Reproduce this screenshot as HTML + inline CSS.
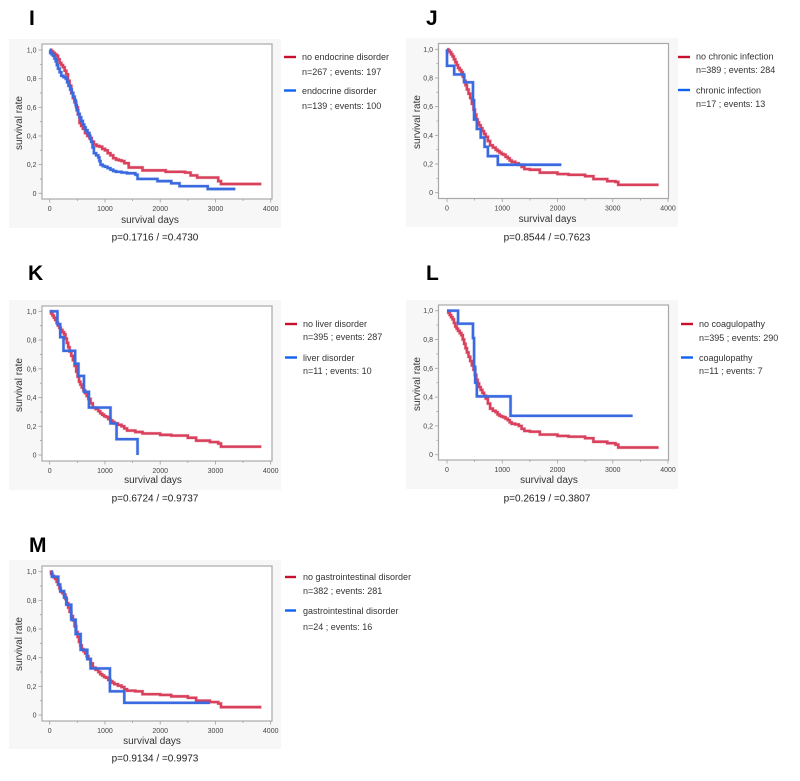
<!DOCTYPE html>
<html lang="en">
<head>
<meta charset="utf-8">
<title>Survival curves I to M</title>
<style>
html,body{margin:0;padding:0;background:#fff;width:800px;height:781px;overflow:hidden}
svg{display:block;font-family:"Liberation Sans",sans-serif}
.letter{font-size:21px;font-weight:bold;fill:#000}
.leg{font-size:9px;fill:#333}
.axt{font-size:10px;fill:#333}
.pv{font-size:10px;fill:#222}
.tick{font-size:7px;fill:#444}
</style>
</head>
<body>
<svg id="figure" width="800" height="781" viewBox="0 0 800 781" xmlns="http://www.w3.org/2000/svg">

<g id="panel-I">
<text class="letter" x="29" y="25">I</text>
<rect x="9" y="39" width="272" height="189" fill="#f7f7f7"/>
<rect x="42" y="44" width="230" height="155" fill="#fff" stroke="#a9a9a9" stroke-width="1.2"/>
<text class="axt" x="150" y="223" text-anchor="middle">survival days</text>
<text class="axt" transform="translate(22,123) rotate(-90)" text-anchor="middle">survival rate</text>
<text class="pv" x="155" y="240.500" text-anchor="middle">p=0.1716 / =0.4730</text>
<line x1="284" x2="296" y1="57" y2="57" stroke="#c8102e" stroke-width="2.4"/>
<text class="leg" x="302" y="60">no endocrine disorder</text>
<text class="leg" x="302" y="75">n=267 ; events: 197</text>
<line x1="284" x2="296" y1="90.500" y2="90.500" stroke="#0f62f0" stroke-width="2.4"/>
<text class="leg" x="302" y="94">endocrine disorder</text>
<text class="leg" x="302" y="109">n=139 ; events: 100</text>
</g>

<g id="panel-J">
<text class="letter" x="426" y="25">J</text>
<rect x="406" y="38" width="272" height="189" fill="#f7f7f7"/>
<rect x="438.500" y="43.500" width="230" height="155" fill="#fff" stroke="#a9a9a9" stroke-width="1.2"/>
<text class="axt" x="547.500" y="222" text-anchor="middle">survival days</text>
<text class="axt" transform="translate(420,122) rotate(-90)" text-anchor="middle">survival rate</text>
<text class="pv" x="547" y="240.500" text-anchor="middle">p=0.8544 / =0.7623</text>
<line x1="678" x2="690" y1="57" y2="57" stroke="#c8102e" stroke-width="2.4"/>
<text class="leg" x="696" y="59.500">no chronic infection</text>
<text class="leg" x="696" y="73">n=389 ; events: 284</text>
<line x1="678" x2="690" y1="90" y2="90" stroke="#0f62f0" stroke-width="2.4"/>
<text class="leg" x="696" y="93.500">chronic infection</text>
<text class="leg" x="696" y="107">n=17 ; events: 13</text>
</g>

<g id="panel-K">
<text class="letter" x="28" y="280">K</text>
<rect x="9" y="300" width="272" height="190" fill="#f7f7f7"/>
<rect x="42" y="306" width="230" height="155" fill="#fff" stroke="#a9a9a9" stroke-width="1.2"/>
<text class="axt" x="153" y="483" text-anchor="middle">survival days</text>
<text class="axt" transform="translate(22,385) rotate(-90)" text-anchor="middle">survival rate</text>
<text class="pv" x="155" y="501.500" text-anchor="middle">p=0.6724 / =0.9737</text>
<line x1="285" x2="297" y1="324" y2="324" stroke="#c8102e" stroke-width="2.4"/>
<text class="leg" x="303" y="327">no liver disorder</text>
<text class="leg" x="303" y="340">n=395 ; events: 287</text>
<line x1="285" x2="297" y1="357.500" y2="357.500" stroke="#0f62f0" stroke-width="2.4"/>
<text class="leg" x="303" y="361">liver disorder</text>
<text class="leg" x="303" y="374">n=11 ; events: 10</text>
</g>

<g id="panel-L">
<text class="letter" x="426" y="280">L</text>
<rect x="406" y="300" width="272" height="189" fill="#f7f7f7"/>
<rect x="438.500" y="305" width="230" height="155" fill="#fff" stroke="#a9a9a9" stroke-width="1.2"/>
<text class="axt" x="549" y="483" text-anchor="middle">survival days</text>
<text class="axt" transform="translate(420,384) rotate(-90)" text-anchor="middle">survival rate</text>
<text class="pv" x="547" y="501.500" text-anchor="middle">p=0.2619 / =0.3807</text>
<line x1="681" x2="693" y1="324" y2="324" stroke="#c8102e" stroke-width="2.4"/>
<text class="leg" x="699" y="327">no coagulopathy</text>
<text class="leg" x="699" y="341">n=395 ; events: 290</text>
<line x1="681" x2="693" y1="357.500" y2="357.500" stroke="#0f62f0" stroke-width="2.4"/>
<text class="leg" x="699" y="361">coagulopathy</text>
<text class="leg" x="699" y="374">n=11 ; events: 7</text>
</g>

<g id="panel-M">
<text class="letter" x="29" y="552">M</text>
<rect x="9" y="560" width="272" height="189" fill="#f7f7f7"/>
<rect x="42" y="566" width="230" height="155" fill="#fff" stroke="#a9a9a9" stroke-width="1.2"/>
<text class="axt" x="152" y="744" text-anchor="middle">survival days</text>
<text class="axt" transform="translate(22,644) rotate(-90)" text-anchor="middle">survival rate</text>
<text class="pv" x="155" y="761.500" text-anchor="middle">p=0.9134 / =0.9973</text>
<line x1="285" x2="296" y1="577" y2="577" stroke="#c8102e" stroke-width="2.4"/>
<text class="leg" x="303" y="580">no gastrointestinal disorder</text>
<text class="leg" x="303" y="594">n=382 ; events: 281</text>
<line x1="285" x2="296" y1="610.500" y2="610.500" stroke="#0f62f0" stroke-width="2.4"/>
<text class="leg" x="303" y="614">gastrointestinal disorder</text>
<text class="leg" x="303" y="630">n=24 ; events: 16</text>
</g>
</svg>

<script>
const xTickValues = [0, 1000, 2000, 3000, 4000];
const xTickLabels = ['0', '1000', '2000', '3000', '4000'];
const xMinorValues = [500, 1500, 2500, 3500];
const yTickValues = [0, 0.2, 0.4, 0.6, 0.8, 1];
const yTickLabels = ['0', '0,2', '0,4', '0,6', '0,8', '1,0'];
const yMinorValues = [0.1, 0.3, 0.5, 0.7, 0.9];

const redDaysI = [0,30,60,90,120,150,180,210,240,270,300,330,360,390,420,450,480,510,540,570,600,640,680,720,760,800,850,900,950,1000,1050,1100,1150,1200,1250,1300,1350,1430,1600,1680,1950,2100,2450,2550,2670,3000,3050,3100,3830];
const redSurvI = [1,.99,.98,.97,.96,.935,.91,.895,.88,.855,.83,.785,.75,.70,.665,.635,.60,.55,.49,.47,.45,.42,.40,.385,.36,.34,.33,.325,.31,.30,.28,.265,.245,.235,.23,.225,.21,.18,.18,.16,.16,.15,.145,.125,.11,.11,.085,.065,.065];
const blueDaysI = [0,10,35,60,85,110,130,150,180,210,250,290,315,340,370,400,425,450,470,490,515,540,570,600,625,650,685,720,735,750,775,800,840,880,900,920,960,1000,1050,1100,1150,1200,1300,1400,1550,1590,1950,2200,2350,2860,3360];
const blueSurvI = [1,.98,.97,.96,.94,.92,.895,.87,.845,.82,.81,.80,.775,.75,.725,.70,.675,.65,.615,.58,.555,.53,.505,.48,.46,.44,.42,.40,.38,.36,.32,.28,.265,.25,.225,.20,.19,.185,.175,.165,.155,.15,.145,.14,.13,.10,.085,.07,.05,.03,.03];

const redDaysJ = [0,25,50,75,100,125,150,175,200,230,260,285,310,335,360,390,420,450,480,505,530,555,580,610,640,670,700,740,780,830,880,915,950,985,1020,1060,1100,1135,1170,1235,1300,1350,1400,1500,1680,1950,2000,2200,2500,2650,2900,3050,3100,3830];
const redSurvJ = [1,.99,.98,.965,.95,.93,.91,.89,.87,.855,.84,.81,.78,.75,.72,.69,.66,.62,.58,.545,.51,.49,.47,.45,.43,.41,.39,.36,.33,.315,.30,.29,.28,.27,.265,.25,.24,.225,.215,.205,.195,.18,.165,.16,.14,.14,.13,.125,.115,.095,.08,.075,.055,.055];
const blueDaysJ = [0,0,130,310,470,490,540,610,680,740,920,2070];
const blueSurvJ = [1,.885,.825,.77,.645,.51,.445,.385,.32,.255,.195,.195];

const redDaysK = [0,25,50,75,100,125,150,175,200,230,260,285,310,335,360,390,420,450,480,505,530,555,580,610,640,670,700,740,780,830,880,915,950,985,1020,1060,1100,1135,1170,1235,1300,1350,1400,1550,1680,1950,2000,2200,2500,2650,2900,3050,3100,3830];
const redSurvK = [1,.985,.97,.955,.94,.92,.90,.885,.87,.855,.84,.81,.78,.75,.72,.69,.66,.62,.58,.545,.51,.49,.47,.45,.43,.41,.39,.36,.33,.32,.305,.29,.28,.27,.265,.25,.24,.23,.22,.21,.20,.185,.17,.16,.15,.15,.14,.135,.12,.10,.09,.08,.058,.058];
const blueDaysK = [0,140,190,250,460,520,620,710,1100,1210,1590];
const blueSurvK = [1,.91,.82,.725,.635,.55,.44,.33,.22,.11,0];

const redDaysL = [0,25,50,75,100,125,150,175,200,230,260,285,310,335,360,390,420,450,480,505,530,555,580,610,640,670,700,740,780,830,880,915,950,985,1020,1060,1100,1135,1170,1235,1300,1350,1400,1500,1680,1950,2000,2200,2500,2650,2900,3050,3100,3830];
const redSurvL = [1,.985,.97,.955,.94,.915,.89,.875,.86,.845,.83,.80,.77,.74,.71,.68,.65,.62,.59,.555,.52,.495,.47,.45,.43,.41,.39,.355,.32,.305,.295,.28,.27,.265,.26,.25,.24,.225,.215,.21,.20,.18,.165,.16,.14,.14,.13,.125,.115,.09,.08,.07,.05,.05];
const blueDaysL = [0,200,470,490,510,540,1150,3360];
const blueSurvL = [1,.91,.81,.61,.5,.405,.27,.27];

const redDaysM = [0,25,50,75,100,125,150,175,200,230,260,285,310,335,360,390,420,450,480,505,530,555,580,610,640,670,700,740,780,830,880,915,950,985,1020,1060,1100,1135,1170,1235,1300,1350,1400,1550,1680,1950,2000,2200,2500,2650,2900,3050,3100,3830];
const redSurvM = [1,.985,.97,.96,.95,.93,.91,.885,.86,.85,.84,.81,.78,.75,.72,.69,.66,.62,.58,.545,.51,.485,.46,.445,.43,.41,.39,.36,.33,.315,.30,.285,.275,.265,.26,.245,.235,.225,.215,.205,.195,.18,.17,.165,.145,.145,.14,.13,.12,.10,.09,.08,.055,.055];
const blueDaysM = [30,40,155,190,260,300,390,470,560,680,740,1090,1350,2900];
const blueSurvM = [1,.965,.91,.865,.82,.77,.665,.565,.455,.39,.325,.165,.085,.085];

const panels = [
  {id:'I', key:'i', left:42, bottom:199, x0:49.7, x4:270.7, y1:50, y0:193.3, red:[redDaysI,redSurvI], blue:[blueDaysI,blueSurvI]},
  {id:'J', key:'j', left:438.5, bottom:198.5, x0:447, x4:668, y1:49.3, y0:192.7, red:[redDaysJ,redSurvJ], blue:[blueDaysJ,blueSurvJ]},
  {id:'K', key:'k', left:42, bottom:461, x0:49.7, x4:270.7, y1:311.3, y0:455, red:[redDaysK,redSurvK], blue:[blueDaysK,blueSurvK]},
  {id:'L', key:'l', left:438.5, bottom:460, x0:447, x4:668, y1:310.7, y0:454.7, red:[redDaysL,redSurvL], blue:[blueDaysL,blueSurvL]},
  {id:'M', key:'m', left:42, bottom:721, x0:49.7, x4:270.7, y1:571.7, y0:715, red:[redDaysM,redSurvM], blue:[blueDaysM,blueSurvM]}
];

const NS = 'http://www.w3.org/2000/svg';

function xAxis(p, d) { return p.x0 + (d / 4000) * (p.x4 - p.x0); }
function yAxis(p, s) { return p.y0 - s * (p.y0 - p.y1); }

function stepPath(p, days, surv) {
  let d = 'M' + xAxis(p, days[0]).toFixed(2) + ' ' + yAxis(p, surv[0]).toFixed(2);
  for (let i = 1; i < days.length; i++) {
    d += 'H' + xAxis(p, days[i]).toFixed(2) + 'V' + yAxis(p, surv[i]).toFixed(2);
  }
  return d;
}

function drawTick(g, x1, y1, x2, y2) {
  const t = document.createElementNS(NS, 'line');
  
  
  t.setAttribute('x1', x1);
  t.setAttribute('y1', y1);
  t.setAttribute('x2', x2);
  t.setAttribute('y2', y2);
  t.setAttribute('stroke', '#a0a0a0');
  t.setAttribute('stroke-width', '0.8');
  g.appendChild(t);
}

function drawLabel(g, x, y, anchor, str) {
  const t = document.createElementNS(NS, 'text');
  
  
  t.setAttribute('class', 'tick');
  t.setAttribute('x', x);
  t.setAttribute('y', y);
  t.setAttribute('text-anchor', anchor);
  t.textContent = str;
  g.appendChild(t);
}

function drawCurve(g, p, series, color, name) {
  const d = stepPath(p, series[0], series[1]);
  const halo = document.createElementNS(NS, 'path');
  
  
  halo.setAttribute('d', d);
  halo.setAttribute('fill', 'none');
  halo.setAttribute('stroke', color);
  halo.setAttribute('stroke-opacity', '0.3');
  halo.setAttribute('stroke-width', '3.4');
  g.appendChild(halo);
  const line = document.createElementNS(NS, 'path');
  
  
  line.setAttribute('d', d);
  line.setAttribute('fill', 'none');
  line.setAttribute('stroke', color);
  line.setAttribute('stroke-width', '2.4');
  g.appendChild(line);
}

panels.forEach(function (p) {
  const g = document.getElementById('panel-' + p.id);
  xTickValues.forEach(function (v, i) {
    const x = xAxis(p, v);
    drawTick(g, x, p.bottom, x, p.bottom + 3.5);
    drawLabel(g, x, p.bottom + 12, 'middle', xTickLabels[i]);
  });
  xMinorValues.forEach(function (v) {
    const x = xAxis(p, v);
    drawTick(g, x, p.bottom, x, p.bottom + 2);
  });
  yTickValues.forEach(function (v, i) {
    const y = yAxis(p, v);
    drawTick(g, p.left, y, p.left - 3.5, y);
    drawLabel(g, p.left - 5.5, y + 2.5, 'end', yTickLabels[i]);
  });
  yMinorValues.forEach(function (v) {
    const y = yAxis(p, v);
    drawTick(g, p.left, y, p.left - 2, y);
  });
  drawCurve(g, p, p.red, '#d8405c', 'survival-curve-red-' + p.key);
  drawCurve(g, p, p.blue, '#3a6ae0', 'survival-curve-blue-' + p.key);
});
</script>
</body>
</html>
